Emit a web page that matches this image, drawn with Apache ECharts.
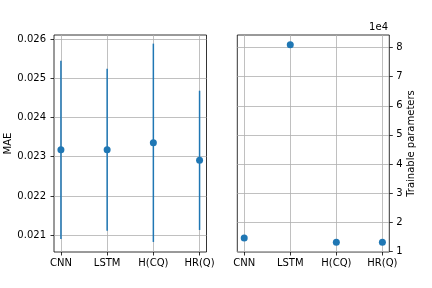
<!DOCTYPE html>
<html><head><meta charset="utf-8">
<script src="https://cdn.jsdelivr.net/npm/echarts@6/dist/echarts.min.js"></script>
<style>html,body{margin:0;padding:0;background:#fff;overflow:hidden}#c{width:432px;height:288px}</style>
</head><body><div id="c"></div>
<script>
const categories = ['CNN', 'LSTM', 'H(CQ)', 'HR(Q)'];
const maeMean = [0.023176, 0.023180, 0.023355, 0.022908];
const maeErr = [0.002270, 0.002062, 0.002525, 0.001773];
const params = [14590, 80900, 13200, 13200];
const maeTicks = [0.021, 0.022, 0.023, 0.024, 0.025, 0.026];
const paramTicks = [10000, 20000, 30000, 40000, 50000, 60000, 70000, 80000];
const catIdx = categories.map((c, i) => i);

const blue = '#1f77b4';
const font = 'DejaVu Sans';
const gridLine = { color: '#b0b0b0', width: 0.8, type: 'solid' };

function xAxisFor(gi) {
  return {
    gridIndex: gi, type: 'value', min: -0.15, max: 3.15,
    axisLine: { show: false, onZero: false },
    splitLine: { show: true, lineStyle: gridLine },
    axisTick: { show: true, inside: false, customValues: catIdx, length: 3.5, lineStyle: { color: '#000', width: 0.8 } },
    axisLabel: { customValues: catIdx, margin: 6, fontSize: 10, fontFamily: font, color: '#000',
      formatter: v => categories[Math.round(v)] }
  };
}

const chart = echarts.init(document.getElementById('c'), null, { renderer: 'canvas' });
chart.setOption({
  animation: false,
  backgroundColor: '#fff',
  grid: [
    { left: 54, top: 35, width: 152.5, height: 217, show: true, borderColor: '#000', borderWidth: 0.8, backgroundColor: 'transparent' },
    { left: 237.3, top: 35, width: 152, height: 217, show: true, borderColor: '#000', borderWidth: 0.8, backgroundColor: 'transparent' }
  ],
  xAxis: [xAxisFor(0), xAxisFor(1)],
  yAxis: [
    {
      gridIndex: 0, type: 'value', min: 0.020574, max: 0.02610,
      name: 'MAE', nameLocation: 'middle', nameRotate: 90, nameGap: 38,
      nameTextStyle: { fontSize: 10, fontFamily: font, color: '#000' },
      axisLine: { show: false, onZero: false }, splitLine: { show: true, lineStyle: gridLine },
      axisTick: { show: true, inside: false, customValues: maeTicks, length: 3.5, lineStyle: { color: '#000', width: 0.8 } },
      axisLabel: { customValues: maeTicks, margin: 8, fontSize: 10, fontFamily: font, color: '#000',
        formatter: v => v.toFixed(3) }
    },
    {
      gridIndex: 1, type: 'value', position: 'right', min: 9815, max: 84285,
      name: 'Trainable parameters', nameLocation: 'middle', nameRotate: 90, nameGap: 16,
      nameTextStyle: { fontSize: 10, fontFamily: font, color: '#000' },
      axisLine: { show: false, onZero: false }, splitLine: { show: true, lineStyle: gridLine },
      axisTick: { show: true, inside: false, customValues: paramTicks, length: 3.5, lineStyle: { color: '#000', width: 0.8 } },
      axisLabel: { customValues: paramTicks, margin: 7, fontSize: 10, fontFamily: font, color: '#000',
        formatter: v => String(Math.round(v / 10000)) }
    }
  ],
  graphic: [
    { type: 'text', right: 44, top: 22, style: { text: '1e4', fontSize: 10, fontFamily: font, fill: '#000' } }
  ],
  series: [
    {
      type: 'custom', xAxisIndex: 0, yAxisIndex: 0, z: 2,
      data: catIdx.map(i => [i, maeMean[i], maeErr[i]]),
      encode: { x: 0, y: 1 },
      renderItem: function (params, api) {
        const x = api.value(0), m = api.value(1), e = api.value(2);
        const hi = api.coord([x, m + e]);
        const lo = api.coord([x, m - e]);
        return { type: 'line', shape: { x1: hi[0], y1: hi[1], x2: lo[0], y2: lo[1] },
          style: { stroke: blue, lineWidth: 1.5 } };
      }
    },
    {
      type: 'scatter', xAxisIndex: 0, yAxisIndex: 0, z: 3,
      symbol: 'circle', symbolSize: 7, itemStyle: { color: blue, opacity: 1 },
      data: catIdx.map(i => [i, maeMean[i]])
    },
    {
      type: 'scatter', xAxisIndex: 1, yAxisIndex: 1, z: 3,
      symbol: 'circle', symbolSize: 7, itemStyle: { color: blue, opacity: 1 },
      data: catIdx.map(i => [i, params[i]])
    }
  ]
});
</script>
</body></html>
